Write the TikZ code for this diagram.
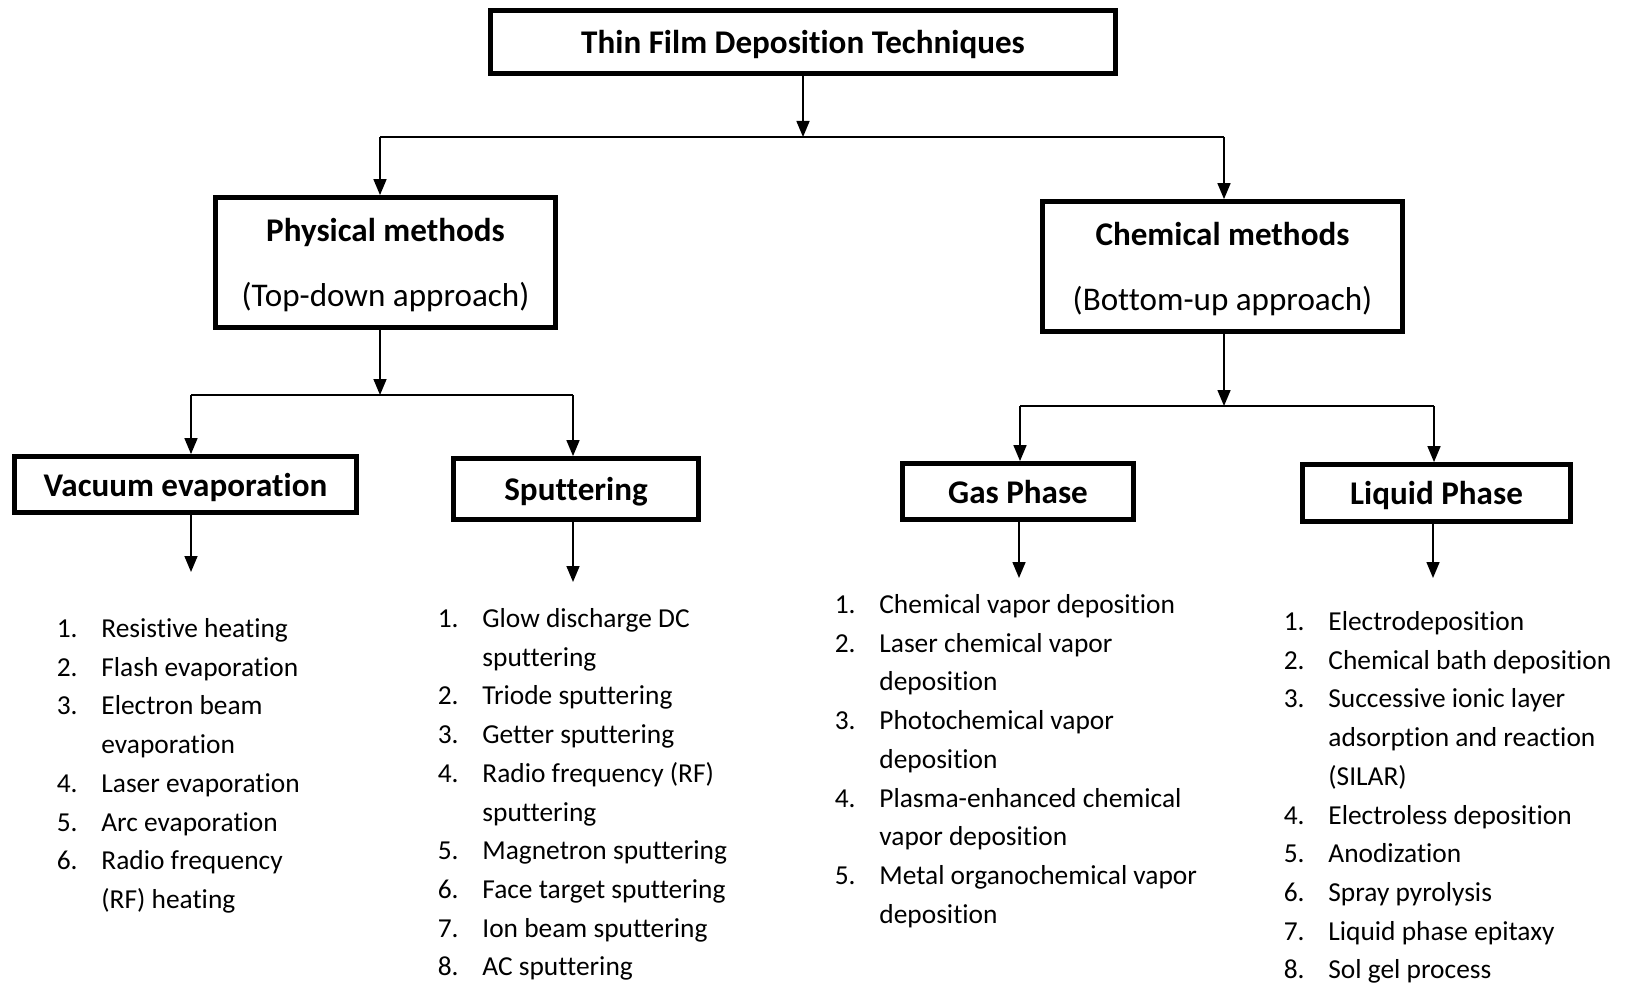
\documentclass[tikz,border=0pt]{standalone}
\usepackage{fontspec}
\setmainfont{Carlito}[Ligatures=NoCommon]
\usetikzlibrary{arrows.meta}

\begin{document}
\begin{tikzpicture}[x=0.5pt, y=-0.5pt, line width=0.8pt, >={Triangle[length=8pt, width=6.5pt]},
	techbox/.style={draw, line width=2.4pt, inner sep=0pt, align=center, text depth=0pt, font=\fontsize{16.55}{32.5}\selectfont},
	techlist/.style={inner sep=0pt, anchor=base west, font=\fontsize{13.7}{19.35}\selectfont}]
	\useasboundingbox (0,0) rectangle (1625,984);
	\node[techbox, minimum width=312.5pt, minimum height=31.5pt] (top) at (803,42) {\bfseries Thin Film Deposition Techniques};
	\node[techbox, minimum width=170pt, minimum height=65pt] (phys) at (385.5,262.5) {\bfseries Physical methods\\(Top-down approach)};
	\node[techbox, minimum width=180pt, minimum height=65pt] (chem) at (1222.5,266.5) {\bfseries Chemical methods\\(Bottom-up approach)};
	\node[techbox, minimum width=171pt, minimum height=28pt] (vac) at (185.5,484.5) {\bfseries Vacuum evaporation};
	\node[techbox, minimum width=122.5pt, minimum height=30.5pt] (sput) at (576,489) {\bfseries Sputtering};
	\node[techbox, minimum width=115.5pt, minimum height=28pt] (gas) at (1018,491.5) {\bfseries Gas Phase};
	\node[techbox, minimum width=134pt, minimum height=28.5pt] (liq) at (1436.5,493) {\bfseries Liquid Phase};
	\coordinate (hubA) at (803,137);
	\coordinate (pl) at (380,137);
	\coordinate (cr) at (1224,137);
	\coordinate (hubB) at (380,395);
	\coordinate (vl) at (191,395);
	\coordinate (sr) at (573,395);
	\coordinate (hubC) at (1224,406);
	\coordinate (gl) at (1020,406);
	\coordinate (lr) at (1434,406);
	\coordinate (vacend) at (191,572);
	\coordinate (sputend) at (573,582);
	\coordinate (gasend) at (1019,578);
	\coordinate (liqend) at (1433,578);
	\node[techlist] (evaplist) at (56,637.5) {\begin{tabular}[t]{@{}p{22.3pt}@{}l@{}}
		1. & Resistive heating\\
		2. & Flash evaporation\\
		3. & Electron beam\\
		 & evaporation\\
		4. & Laser evaporation\\
		5. & Arc evaporation\\
		6. & Radio frequency\\
		 & (RF) heating
	\end{tabular}};
	\node[techlist] (sputlist) at (437,627.5) {\begin{tabular}[t]{@{}p{22.3pt}@{}l@{}}
		1. & Glow discharge DC\\
		 & sputtering\\
		2. & Triode sputtering\\
		3. & Getter sputtering\\
		4. & Radio frequency (RF)\\
		 & sputtering\\
		5. & Magnetron sputtering\\
		6. & Face target sputtering\\
		7. & Ion beam sputtering\\
		8. & AC sputtering
	\end{tabular}};
	\node[techlist] (gaslist) at (834,613.5) {\begin{tabular}[t]{@{}p{22.3pt}@{}l@{}}
		1. & Chemical vapor deposition\\
		2. & Laser chemical vapor\\
		 & deposition\\
		3. & Photochemical vapor\\
		 & deposition\\
		4. & Plasma-enhanced chemical\\
		 & vapor deposition\\
		5. & Metal organochemical vapor\\
		 & deposition
	\end{tabular}};
	\node[techlist] (liqlist) at (1283,630.5) {\begin{tabular}[t]{@{}p{22.3pt}@{}l@{}}
		1. & Electrodeposition\\
		2. & Chemical bath deposition\\
		3. & Successive ionic layer\\
		 & adsorption and reaction\\
		 & (SILAR)\\
		4. & Electroless deposition\\
		5. & Anodization\\
		6. & Spray pyrolysis\\
		7. & Liquid phase epitaxy\\
		8. & Sol gel process
	\end{tabular}};
	\draw[->] (top) -- (hubA);
	\draw (pl) -- (cr);
	\draw[->] (pl) -- (pl |- phys.north);
	\draw[->] (cr) -- (cr |- chem.north);
	\draw[->] (hubB |- phys.south) -- (hubB);
	\draw (vl) -- (sr);
	\draw[->] (vl) -- (vl |- vac.north);
	\draw[->] (sr) -- (sr |- sput.north);
	\draw[->] (hubC |- chem.south) -- (hubC);
	\draw (gl) -- (lr);
	\draw[->] (gl) -- (gl |- gas.north);
	\draw[->] (lr) -- (lr |- liq.north);
	\draw[->] (vacend |- vac.south) -- (vacend);
	\draw[->] (sputend |- sput.south) -- (sputend);
	\draw[->] (gasend |- gas.south) -- (gasend);
	\draw[->] (liqend |- liq.south) -- (liqend);
\end{tikzpicture}
\end{document}
